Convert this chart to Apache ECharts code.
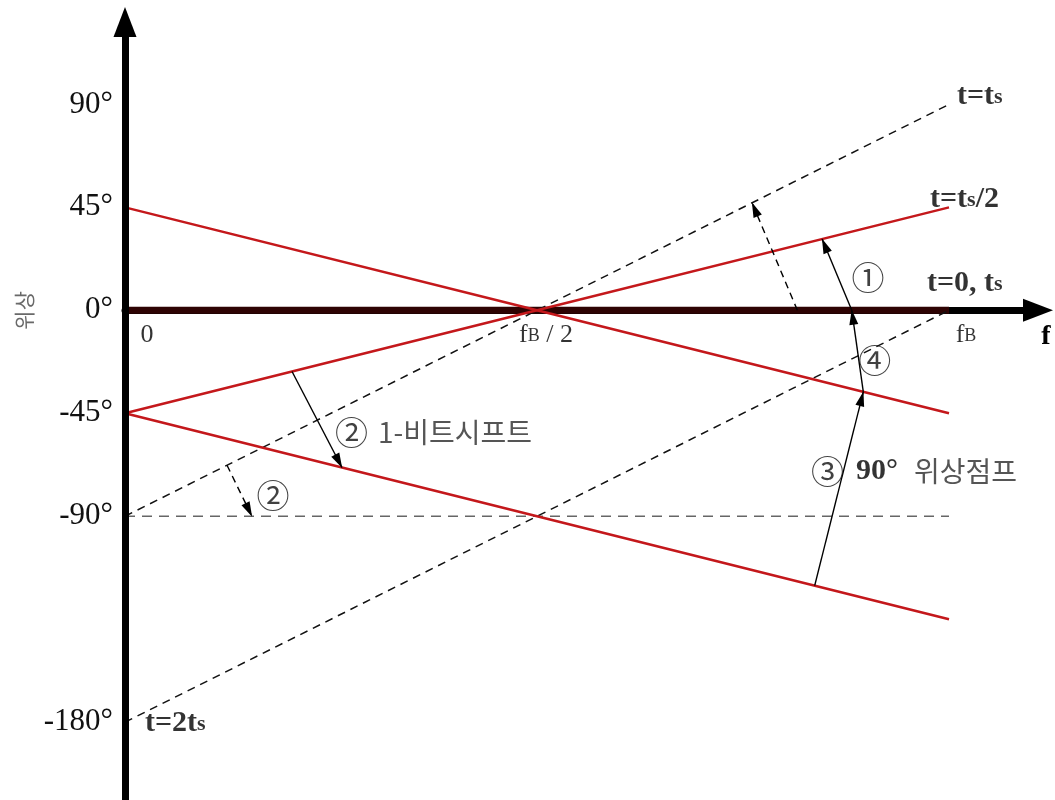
<!DOCTYPE html>
<html>
<head>
<meta charset="utf-8">
<script src="https://cdn.jsdelivr.net/npm/echarts@6/dist/echarts.min.js"></script>
<style>
  html, body { margin: 0; padding: 0; background: #fff; }
  #chart { width: 1055px; height: 800px; }
</style>
</head>
<body>
<div id="chart"></div>
<script>
// Frequency in units of the bit rate fB, phase in degrees.
const freq = [0, 0.5, 1];

// Phase trajectories over frequency at several instants
const phaseT0 = [0, 0, 0];              // t = 0, ts
const phaseHalfRise = [-45, 0, 45];     // t = ts/2
const phaseHalfFall = [45, 0, -45];
const phaseLowFall = [-45, -90, -135];
const phaseTs = [-90, 0, 90];           // t = ts
const phase2Ts = [-180, -90, 0];        // t = 2ts
const phaseRef90 = [-90, -90, -90];

const phaseTicks = [90, 45, 0, -45, -90, -180];

// Annotation arrows: [fromFreq, fromPhase, toFreq, toPhase]
const arrowStep1 = [0.882, 0, 0.846, 31.14];          // ①
const arrowStep1Dashed = [0.816, 0, 0.761, 46.98];
const arrowStep2 = [0.2027, -26.76, 0.2633, -68.70];  // ② 1-bit shift
const arrowStep2Dashed = [0.1238, -67.72, 0.154, -90];
const arrowStep3 = [0.837, -120.33, 0.896, -35.64];   // ③ 90° jump
const arrowStep4 = [0.896, -35.64, 0.882, 0];         // ④

const RED = '#c4181b';
const SERIF = '"Liberation Serif", "Times New Roman", serif';
const KR = '"Noto Sans CJK KR", sans-serif';

const toXY = ys => freq.map((f, i) => [f, ys[i]]);

function traj(ys, lineStyle, z) {
  return { type: 'line', data: toXY(ys), symbol: 'none', silent: true,
           animation: false, z: z, lineStyle: lineStyle };
}

function arrow(a, dashed) {
  const ls = { type: dashed ? [7, 5] : 'solid' };
  return [{ coord: [a[0], a[1]], lineStyle: ls }, { coord: [a[2], a[3]], lineStyle: ls }];
}

// Text placed in frequency/phase space
const boldT = { fontFamily: SERIF, fontWeight: 'bold', fontSize: 30, color: '#000',
                verticalAlign: 'bottom', lineHeight: 30 };
const boldS = { fontFamily: SERIF, fontWeight: 'bold', fontSize: 22, color: '#000',
                verticalAlign: 'bottom', lineHeight: 22, padding: [0, 0, 3, 0] };
const regF = { fontFamily: SERIF, fontSize: 26, color: '#000', verticalAlign: 'bottom', lineHeight: 26 };
const regB = { fontFamily: SERIF, fontSize: 18, color: '#000', verticalAlign: 'bottom', lineHeight: 18,
               padding: [0, 0, 3, 0] };
const circ = { fontFamily: KR, fontSize: 33, color: '#111' };
const krText = { fontFamily: KR, fontSize: 28, color: '#2a2a2a' };

const notes = [
  { at: [-0.1226, 0], text: '위상', style: { fontFamily: KR, fontSize: 21, color: '#444', rotate: 90 } },
  { at: [0, 0], text: '{f|0}', offset: [22, 25] },
  { at: [0.5, 0], text: '{f|f}{b|B}{f| / 2}', offset: [9, 25] },
  { at: [1, 0], text: '{f|f}{b|B}', offset: [17, 25] },
  { at: [1, 90], text: '{t|t=t}{s|s}', offset: [8, -8], align: 'left' },
  { at: [1, 45], text: '{t|t=t}{s|s}{t|/2}', offset: [-19, -8], align: 'left' },
  { at: [1, 0], text: '{t|t=0, t}{s|s}', offset: [-22, -27], align: 'left' },
  { at: [0, -180], text: '{t|t=2t}{s|s}', offset: [20, 1], align: 'left' },
  { at: [0.9017, 14.4], text: '{c|①}' },
  { at: [0.910, -21.9], text: '{c|④}' },
  { at: [0.8325, -70.4], text: '{c|③}{n|90°}{k|위상점프}', align: 'left' },
  { at: [0.2549, -53.3], text: '{c|②}{k2|1-비트시프트}', align: 'left' },
  { at: [0.1796, -80.9], text: '{c|②}' }
];

const richStyles = {
  t: boldT, s: boldS, f: regF, b: regB, c: circ,
  n: Object.assign({}, boldT, { padding: [0, 0, 0, 12], verticalAlign: 'middle' }),
  k: Object.assign({}, krText, { padding: [0, 0, 0, 16] }),
  k2: Object.assign({}, krText, { padding: [0, 0, 0, 10] })
};

const noteSeries = {
  type: 'scatter', symbolSize: 1, silent: true, clip: false, animation: false, z: 20,
  itemStyle: { color: 'transparent' },
  data: notes.map(n => ({
    value: n.at,
    label: Object.assign({
      show: true, position: 'inside', formatter: n.text, rich: richStyles,
      offset: n.offset || [0, 0], align: n.align || 'center', verticalAlign: 'middle'
    }, n.style || {})
  }))
};

const chart = echarts.init(document.getElementById('chart'), null, { renderer: 'canvas' });

chart.setOption({
  backgroundColor: '#fff',
  animation: false,
  grid: { left: 125, right: 17, top: 22, bottom: 0, containLabel: false },
  xAxis: {
    type: 'value', min: 0, max: 1.108,
    axisLine: { show: true, onZero: true, symbol: ['none', 'triangle'], symbolSize: [23, 30],
                lineStyle: { color: '#000', width: 7 } },
    axisTick: { show: false }, axisLabel: { show: false }, splitLine: { show: false },
    name: 'f', nameLocation: 'end', nameGap: 8,
    nameTextStyle: { fontFamily: SERIF, fontWeight: 'bold', fontSize: 28, color: '#000',
                     align: 'center', verticalAlign: 'top', padding: [12, 0, 0, 0] }
  },
  yAxis: {
    type: 'value', min: -214, max: 126, z: 5,
    axisLine: { show: true, onZero: false, symbol: ['none', 'triangle'], symbolSize: [23, 30],
                lineStyle: { color: '#000', width: 7 } },
    axisTick: { show: false }, splitLine: { show: false },
    axisLabel: { customValues: phaseTicks, formatter: v => v + '°', margin: 12,
                 fontFamily: SERIF, fontSize: 31, color: '#111' }
  },
  series: [
    Object.assign(traj(phaseT0, { color: '#2e0303', width: 7 }, 2), {
      markLine: {
        silent: true, animation: false,
        symbol: ['none', 'triangle'], symbolSize: [9, 15], symbolOffset: [[0, 0], [0, 7]],
        label: { show: false },
        lineStyle: { color: '#000', width: 1.4 },
        data: [
          arrow(arrowStep1, false), arrow(arrowStep1Dashed, true),
          arrow(arrowStep2, false), arrow(arrowStep2Dashed, true),
          arrow(arrowStep3, false), arrow(arrowStep4, false)
        ]
      }
    }),
    traj(phaseRef90, { color: '#666', width: 1.5, type: [10, 7] }, 3),
    traj(phaseTs, { color: '#111', width: 1.5, type: [8, 6] }, 3),
    traj(phase2Ts, { color: '#111', width: 1.5, type: [8, 6] }, 3),
    traj(phaseHalfRise, { color: RED, width: 2.5 }, 4),
    traj(phaseHalfFall, { color: RED, width: 2.5 }, 4),
    traj(phaseLowFall, { color: RED, width: 2.5 }, 4),
    noteSeries
  ]
});
</script>
</body>
</html>
